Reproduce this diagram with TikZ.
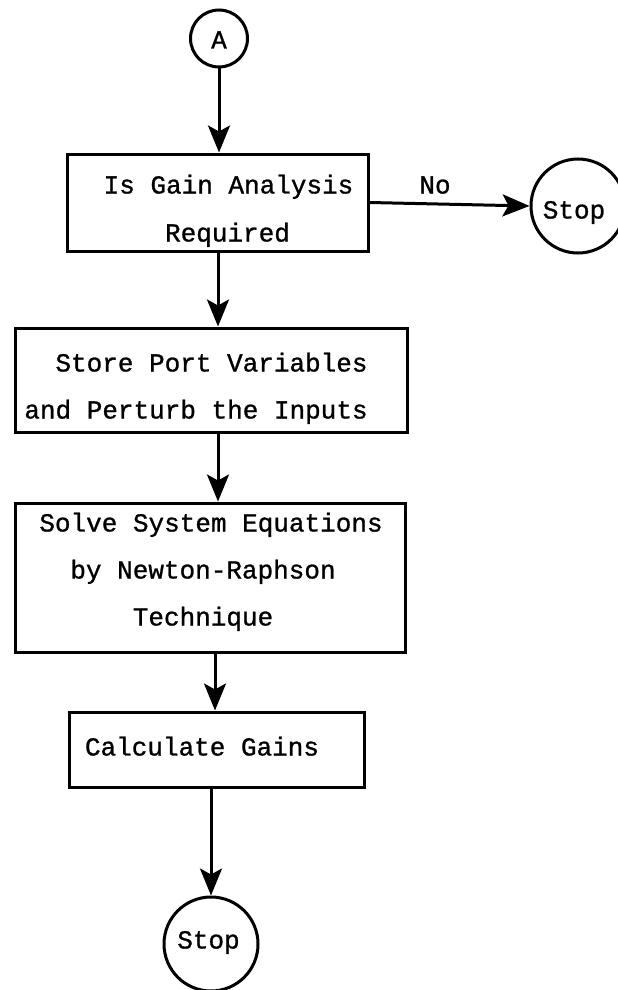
\documentclass[tikz,border=0pt]{standalone}
\usepackage{fontspec}
\setmainfont{Liberation Mono}[FakeBold=1]
\usetikzlibrary{arrows.meta}

\tikzset{
  flowline/.style={line width=3pt},
  arr/.style={flowline, -{Stealth[length=27pt,width=22pt,inset=6pt]}},
  stepbox/.style={draw, flowline, rectangle, inner sep=0pt},
  term/.style={draw, flowline, circle, inner sep=0pt},
  txt/.style={inner sep=0pt, text height=17pt, text depth=0pt,
              font=\fontsize{26pt}{30pt}\selectfont}
}

\begin{document}
\begin{tikzpicture}[x=1pt, y=-1pt]
  \useasboundingbox (0,0) rectangle (618,990);
  \clip (0,0) rectangle (618,990);

  % connector circles
  \node[term, minimum size=57pt] (A) at (219,38.5) {};
  \node[txt] (At) at (219,40) {A};

  \node[term, minimum size=94pt] (stopR) at (578,206) {};
  \node[txt] (stopRt) at (574,210) {Stop};

  \node[term, minimum size=94pt] (stopB) at (211,944) {};
  \node[txt] (stopBt) at (208.5,940) {Stop};

  % process boxes
  \node[stepbox, minimum width=301pt, minimum height=97pt] (b1) at (217.5,202.5) {};
  \node[txt] (b1a) at (228.5,185) {Is Gain Analysis};
  \node[txt] (b1b) at (227.5,233) {Required};

  \node[stepbox, minimum width=392pt, minimum height=104pt] (b2) at (211,380) {};
  \node[txt] (b2a) at (211.5,363) {Store Port Variables};
  \node[txt] (b2b) at (196,410) {and Perturb the Inputs};

  \node[stepbox, minimum width=390pt, minimum height=149pt] (b3) at (210,577.5) {};
  \node[txt] (b3a) at (211,523) {Solve System Equations};
  \node[txt] (b3b) at (203,570) {by Newton-Raphson};
  \node[txt] (b3c) at (203,617) {Technique};

  \node[stepbox, minimum width=295pt, minimum height=75pt] (b4) at (216.5,749.5) {};
  \node[txt] (b4a) at (202,747) {Calculate Gains};

  % flow
  \coordinate (x1) at (218,0);
  \coordinate (x2) at (215,0);
  \draw[arr] (A) -- (A |- b1.north);
  \draw[arr] (x1 |- b1.south) -- (x1 |- b2.north);
  \draw[arr] (x1 |- b2.south) -- (x1 |- b3.north);
  \draw[arr] (x2 |- b3.south) -- (x2 |- b4.north);
  \draw[arr] (stopB |- b4.south) -- (stopB.north);

  % "No" branch
  \draw[arr] (b1.east) -- (stopR.west);
  \node[txt] (no) at (435,185) {No};
\end{tikzpicture}
\end{document}
